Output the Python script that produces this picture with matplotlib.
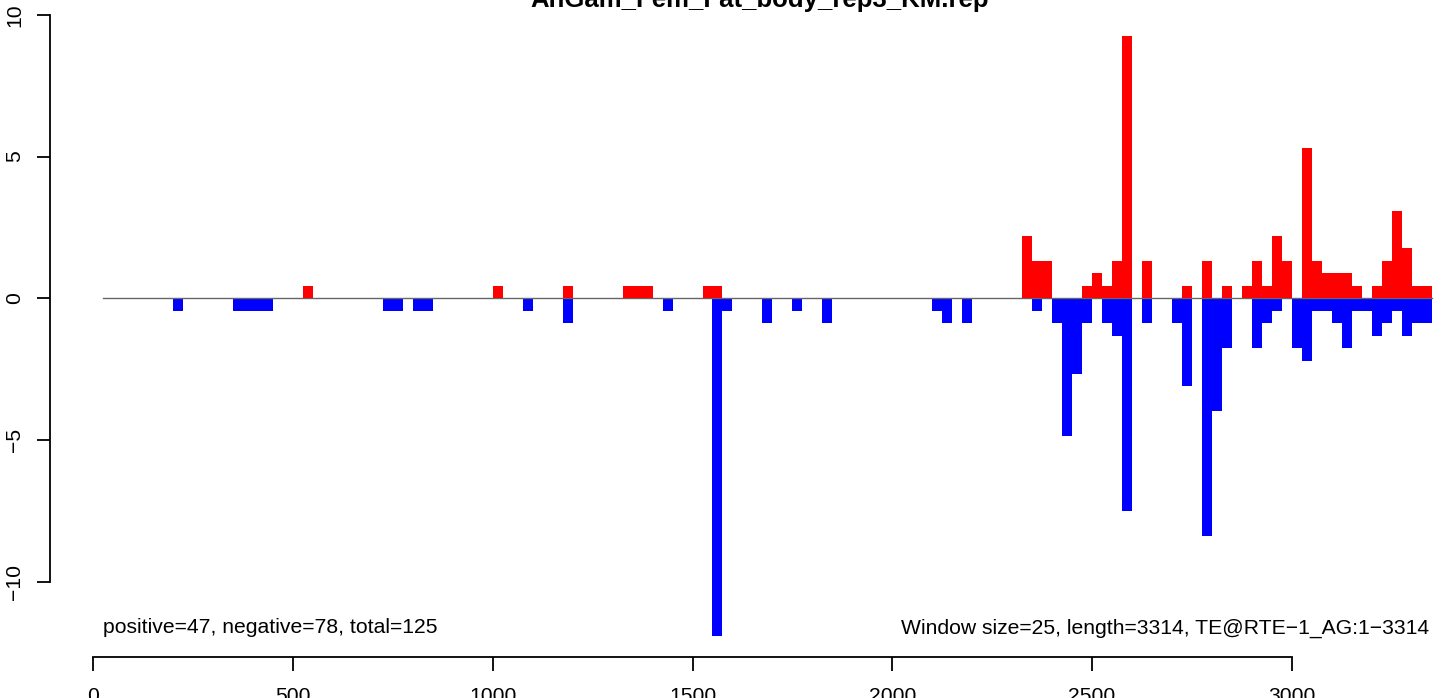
import matplotlib
matplotlib.use("Agg")
import matplotlib.pyplot as plt

# windows (start position) with reads on the + strand, and their signal
pos_x = [525, 1000, 1175, 1325, 1350, 1375, 1525, 1550, 2325, 2350, 2375,
         2475, 2500, 2525, 2550, 2575, 2625, 2725, 2775, 2825, 2875, 2900,
         2925, 2950, 2975, 3025, 3050, 3075, 3100, 3125, 3150, 3200, 3225,
         3250, 3275, 3300, 3325]
pos_val = [0.44, 0.44, 0.44, 0.44, 0.44, 0.44, 0.44, 0.44, 2.21, 1.32, 1.32,
           0.44, 0.88, 0.44, 1.32, 9.26, 1.32, 0.44, 1.32, 0.44, 0.44, 1.32,
           0.44, 2.21, 1.32, 5.29, 1.32, 0.88, 0.88, 0.88, 0.44, 0.44, 1.32,
           3.09, 1.76, 0.44, 0.44]

# windows with reads on the - strand
neg_x = [200, 350, 375, 400, 425, 725, 750, 800, 825, 1075, 1175, 1425,
         1550, 1575, 1675, 1750, 1825, 2100, 2125, 2175, 2350, 2400, 2425,
         2450, 2475, 2525, 2550, 2575, 2625, 2700, 2725, 2775, 2800, 2825,
         2900, 2925, 2950, 3000, 3025, 3050, 3075, 3100, 3125, 3150, 3175,
         3200, 3225, 3250, 3275, 3300, 3325]
neg_val = [-0.44, -0.44, -0.44, -0.44, -0.44, -0.44, -0.44, -0.44, -0.44,
           -0.44, -0.88, -0.44, -11.91, -0.44, -0.88, -0.44, -0.88, -0.44,
           -0.88, -0.88, -0.44, -0.88, -4.85, -2.65, -0.88, -0.88, -1.32,
           -7.50, -0.88, -0.88, -3.09, -8.38, -3.97, -1.76, -1.76, -0.88,
           -0.44, -1.76, -2.21, -0.44, -0.44, -0.88, -1.76, -0.44, -0.44,
           -1.32, -0.88, -0.44, -1.32, -0.88, -0.88]

x_ticks = [0, 500, 1000, 1500, 2000, 2500, 3000]
y_ticks = [-10, -5, 0, 5, 10]

window = 25
seq_start, seq_end = 25, 3350

title = "AnGam_Fem_Fat_body_rep3_KM.rep"
left_note = "positive=47, negative=78, total=125"
right_note = "Window size=25, length=3314, TE@RTE\u22121_AG:1\u22123314"

plt.rcParams["font.family"] = ["Liberation Sans", "DejaVu Sans"]

fig = plt.figure(figsize=(14.44, 6.98), dpi=100)
ax = fig.add_axes([0, 0, 1, 1])
ax.set_xlim(-233.6, 3381.2)
ax.set_ylim(-14.09, 10.518)

ax.bar(neg_x, neg_val, width=window, align="edge", color="#0000ff",
       linewidth=0, antialiased=False, zorder=1)
ax.plot([seq_start, seq_end], [0, 0], color="#666666", lw=1, zorder=2)
ax.bar(pos_x, pos_val, width=window, align="edge", color="#ff0000",
       linewidth=0, antialiased=False, zorder=3)

# R-style detached axes
for side in ["top", "right"]:
    ax.spines[side].set_visible(False)
ax.spines["left"].set_position(("data", -108))
ax.spines["left"].set_bounds(-10, 10)
ax.spines["bottom"].set_position(("data", -12.66))
ax.spines["bottom"].set_bounds(0, 3000)
ax.spines["left"].set_linewidth(1.3)
ax.spines["bottom"].set_linewidth(1.3)

ax.set_xticks(x_ticks)
ax.set_yticks(y_ticks)
ax.tick_params(axis="both", direction="out", width=1.3, labelsize=15.2)
ax.tick_params(axis="x", length=10, pad=11)
ax.tick_params(axis="y", length=9.5, pad=9)
for lbl in ax.get_yticklabels():
    lbl.set_rotation(90)
    lbl.set_va("center")

ax.text(1669, 10.26, title, ha="center", va="baseline",
        fontsize=18.5, fontweight="bold")
ax.text(seq_start, -11.81, left_note, ha="left", va="baseline", fontsize=15.2)
ax.text(3345, -11.81, right_note, ha="right", va="baseline", fontsize=15.2)

plt.savefig("out.png", dpi=100)
